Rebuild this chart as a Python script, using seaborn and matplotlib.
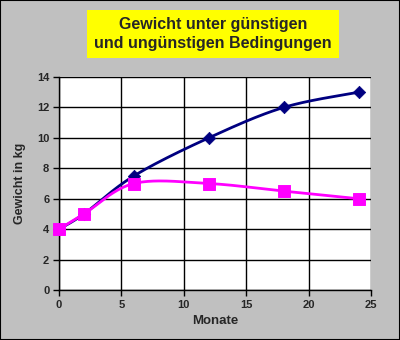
import numpy as np
import matplotlib
matplotlib.use("Agg")
import matplotlib.pyplot as plt
import seaborn as sns
from matplotlib.patches import Rectangle

months = [0, 2, 6, 12, 18, 24]
good = [4, 5, 7.5, 10, 12, 13]
bad = [4, 5, 7, 7, 6.5, 6]
title = "Gewicht unter günstigen\nund ungünstigen Bedingungen"
xlabel = "Monate"
ylabel = "Gewicht in kg"

sns.set_style("white")
plt.rcParams['font.family'] = ['Liberation Sans', 'DejaVu Sans']


def smooth(xs, ys, n=40):
    xs = np.asarray(xs, float); ys = np.asarray(ys, float)
    P = np.column_stack([xs, ys])
    P = np.vstack([P[0], P, P[-1]])
    out = []
    for i in range(1, len(P) - 2):
        p0, p1, p2, p3 = P[i - 1], P[i], P[i + 1], P[i + 2]
        c1 = p1 + (p2 - p0) / 6
        c2 = p2 - (p3 - p1) / 6
        t = np.linspace(0, 1, n)[:, None]
        seg = (1 - t) ** 3 * p1 + 3 * (1 - t) ** 2 * t * c1 + 3 * (1 - t) * t ** 2 * c2 + t ** 3 * p2
        out.append(seg)
    out = np.vstack(out)
    return out[:, 0], out[:, 1]


fig = plt.figure(figsize=(4, 3.4), dpi=100, facecolor='#C0C0C0')
fig.add_artist(Rectangle((0, 0), 1, 1, transform=fig.transFigure, fill=False,
                         edgecolor='black', linewidth=1.5))
ax = fig.add_axes([0.1475, 0.147, 0.78, 0.6265])
ax.set_facecolor('white')

blue = '#000080'
mag = '#FF00FF'
sx, sy = smooth(months, good)
ax.plot(sx, sy, color=blue, lw=2, zorder=3, clip_on=False)
sx, sy = smooth(months, bad)
ax.plot(sx, sy, color=mag, lw=2, zorder=3, clip_on=False)
sns.scatterplot(x=months, y=good, ax=ax, marker='D', s=40, color=blue,
                edgecolor=blue, zorder=4, clip_on=False)
sns.scatterplot(x=months, y=bad, ax=ax, marker='s', s=70, color=mag,
                edgecolor=mag, zorder=5, clip_on=False)

ax.set_xlim(0, 25)
ax.set_ylim(0, 14)
ax.set_xticks(range(0, 26, 5))
ax.set_yticks(range(0, 15, 2))
ax.grid(True, color='black', lw=1)
ax.set_axisbelow(True)
for s in ['top', 'right']:
    ax.spines[s].set_visible(False)
for s in ['left', 'bottom']:
    ax.spines[s].set_color('black')
    ax.spines[s].set_linewidth(1)
ax.tick_params(axis='both', direction='out', length=4, width=1, color='black',
               labelsize=8, pad=3, left=True, bottom=True)
for lab in ax.get_xticklabels() + ax.get_yticklabels():
    lab.set_fontweight('bold')
ax.set_xlabel(xlabel, fontsize=9.5, fontweight='bold', labelpad=4)
ax.set_ylabel(ylabel, fontsize=9, fontweight='bold', labelpad=8)

fig.text(0.5325, 0.9, title, ha='center', va='center', fontsize=11.5,
         fontweight='bold', linespacing=1.3,
         bbox=dict(boxstyle='square,pad=0.45', facecolor='#FFFF00', edgecolor='none'))

fig.savefig('out.png', dpi=100, facecolor=fig.get_facecolor())
